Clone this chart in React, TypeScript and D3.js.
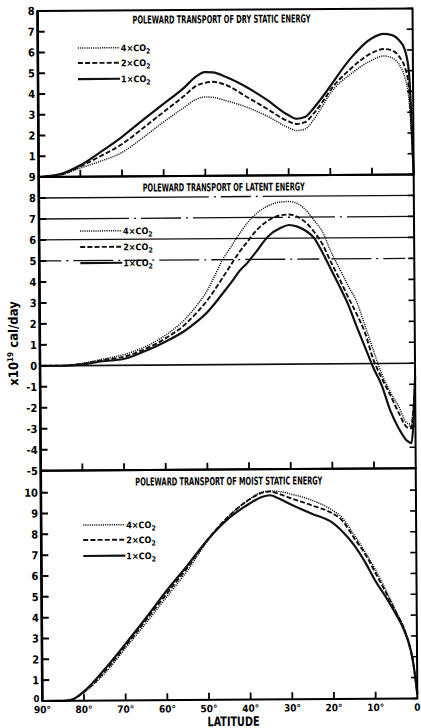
import React from 'react';
import * as d3 from 'd3';

// ---------- DATA ----------
const latTicks = [90, 80, 70, 60, 50, 40, 30, 20, 10, 0];
const latLabels = ['90°', '80°', '70°', '60°', '50°', '40°', '30°', '20°', '10°', '0'];
const seriesNames = ['4×CO', '2×CO', '1×CO'];

// Dry static energy
const dryLat = [90, 85, 80, 75, 70, 65, 60, 55, 52, 50, 48, 45, 40, 35, 30, 28, 26, 24, 22, 20, 15, 10, 7, 5, 3, 2, 1, 0.5, 0];
const dry1x = [0, 0.12, 0.55, 1.2, 1.9, 2.7, 3.47, 4.25, 4.8, 5.0, 4.98, 4.77, 4.27, 3.63, 2.9, 2.72, 2.8, 3.2, 3.7, 4.25, 5.6, 6.55, 6.78, 6.72, 6.4, 6.05, 5.0, 3.0, 0];
const dry2x = [0, 0.1, 0.5, 1.0, 1.55, 2.3, 3.08, 3.85, 4.35, 4.48, 4.53, 4.38, 3.8, 3.2, 2.6, 2.47, 2.55, 2.95, 3.45, 4.05, 5.1, 5.85, 6.05, 5.98, 5.6, 5.2, 4.2, 2.5, 0];
const dry4x = [0, 0.08, 0.42, 0.75, 1.15, 1.85, 2.6, 3.3, 3.7, 3.8, 3.78, 3.62, 3.3, 2.85, 2.3, 2.15, 2.22, 2.65, 3.25, 3.9, 4.85, 5.5, 5.72, 5.62, 5.2, 4.7, 3.6, 2.0, 0];
const dryTicks = [1, 2, 3, 4, 5, 6, 7, 8];

// Latent energy
const latLat = [90, 85, 80, 75, 70, 65, 60, 55, 52, 50, 48, 46, 44, 42, 40, 38, 35, 32, 30, 28, 26, 24, 22, 20, 18, 16, 14, 12, 10, 8, 6, 4, 2, 1, 0.5, 0];
const lat4x = [0, 0, 0.1, 0.3, 0.5, 0.85, 1.4, 2.2, 2.9, 3.45, 4.2, 5.0, 5.6, 6.2, 6.75, 7.15, 7.55, 7.73, 7.75, 7.65, 7.35, 6.85, 6.3, 5.35, 4.55, 3.75, 3.0, 1.85, 0.65, -0.5, -1.35, -2.05, -2.85, -2.9, -2.2, -1.0];
const lat2x = [0, 0, 0.08, 0.25, 0.4, 0.75, 1.25, 1.95, 2.55, 3.0, 3.55, 4.15, 4.75, 5.35, 5.85, 6.35, 6.85, 7.1, 7.13, 7.02, 6.75, 6.3, 5.7, 4.85, 4.05, 3.2, 2.4, 1.5, 0.2, -0.7, -1.5, -2.35, -3.05, -3.1, -2.3, -0.8];
const lat1x = [0, 0, 0.05, 0.2, 0.3, 0.65, 1.1, 1.65, 2.1, 2.45, 2.9, 3.4, 3.9, 4.45, 4.85, 5.35, 6.1, 6.5, 6.63, 6.55, 6.35, 6.0, 5.3, 4.5, 3.7, 2.85, 1.8, 0.8, -0.2, -1.05, -2.25, -3.1, -3.7, -3.8, -2.9, -0.6];
const latTicksY = [9, 8, 7, 6, 5, 4, 3, 2, 1, 0, -1, -2, -3, -4, -5];
const latRefLines = [8, 7, 6, 5, 0];

// Moist static energy
const moLat = [90, 85, 83, 80, 75, 70, 65, 60, 55, 50, 45, 40, 37, 35, 33, 30, 25, 20, 18, 15, 12, 10, 7, 5, 3, 1.5, 1, 0];
const mo1x = [0, 0, 0.05, 0.45, 1.5, 2.7, 3.95, 5.25, 6.45, 7.7, 8.7, 9.4, 9.72, 9.8, 9.65, 9.35, 8.9, 8.45, 8.1, 7.4, 6.45, 5.7, 4.75, 4.05, 3.25, 2.3, 1.8, 0.2];
const mo2x = [0, 0, 0.05, 0.42, 1.4, 2.6, 3.85, 5.1, 6.35, 7.7, 8.8, 9.6, 9.92, 9.98, 9.87, 9.65, 9.3, 8.9, 8.62, 7.75, 6.85, 6.1, 4.95, 4.15, 3.3, 2.3, 1.8, 0.2];
const mo4x = [0, 0, 0.05, 0.4, 1.3, 2.5, 3.7, 4.95, 6.2, 7.65, 8.8, 9.6, 9.95, 10.0, 9.98, 9.85, 9.55, 9.05, 8.75, 7.9, 6.95, 6.25, 5.05, 4.2, 3.35, 2.35, 1.8, 0.2];
const moTicks = [0, 1, 2, 3, 4, 5, 6, 7, 8, 9, 10];

const titles = [
  'POLEWARD TRANSPORT OF DRY STATIC ENERGY',
  'POLEWARD TRANSPORT OF LATENT ENERGY',
  'POLEWARD TRANSPORT OF MOIST STATIC ENERGY',
];

// ---------- STYLES ----------
const FONT = "'Liberation Sans Narrow', 'DejaVu Sans Condensed', 'Arial Narrow', sans-serif";
const lineStyles = [
  { dash: '1.1,1.1', width: 1.5 },
  { dash: '5,2.2', width: 1.9 },
  { dash: undefined, width: 2.2 },
];

export default function App() {
  const x = d3.scaleLinear().domain([90, 0]).range([40, 415]);
  const panels = [
    {
      y: d3.scaleLinear().domain([0, 8]).range([175.7, 9.7]),
      dom: [0, 8], lat: dryLat, series: [dry4x, dry2x, dry1x], ticks: dryTicks,
      title: titles[0], titleX: 224, titleY: 23, titleW: 178,
      legendY: [47, 62, 78], legendX: 80,
    },
    {
      y: d3.scaleLinear().domain([-5, 9]).range([469.5, 175.7]),
      dom: [-5, 9], lat: latLat, series: [lat4x, lat2x, lat1x], ticks: latTicksY,
      title: titles[1], titleX: 225, titleY: 191, titleW: 162,
      legendY: [230, 246, 262], legendX: 81,
    },
    {
      y: d3.scaleLinear().domain([0, 11.05]).range([699.7, 469.5]),
      dom: [0, 11.05], lat: moLat, series: [mo4x, mo2x, mo1x], ticks: moTicks,
      title: titles[2], titleX: 228, titleY: 485, titleW: 187,
      legendY: [524, 539, 555], legendX: 82,
    },
  ];
  const [x0, x1] = x.range();
  const refDash: Record<number, string | undefined> = {
    8: '170,5,2,5,30,5,2,5',
    7: '90,5,2,5,40,5,2,5',
    6: undefined,
    5: '22,5,2,5,40,5,2,5',
    0: undefined,
  };

  return (
    <svg width={421} height={728} style={{ position: 'absolute', left: 0, top: 0, background: '#fff' }}
      fontFamily={FONT} fontWeight="bold">
      <rect x={0} y={0} width={421} height={728} fill="#fff" />
      <g transform="rotate(-0.4 228 364)">
        {panels.map((p, pi) => {
          const yTop = p.y(p.dom[1]);
          const yBot = p.y(p.dom[0]);
          return (
            <g key={pi}>
              {pi === 1 && latRefLines.map((v) => (
                <line key={v} x1={x0} x2={x1} y1={p.y(v)} y2={p.y(v)} stroke="#111"
                  strokeWidth={v === 0 ? 1.6 : 1.3} strokeDasharray={refDash[v]} />
              ))}
              {p.series.map((s, si) => {
                const gen = d3.line<number>()
                  .x((_, i) => x(p.lat[i]))
                  .y((d) => p.y(d))
                  .curve(d3.curveMonotoneX);
                return (
                  <path key={si} d={gen(s) || ''} fill="none" stroke="#111"
                    strokeWidth={lineStyles[si].width} strokeDasharray={lineStyles[si].dash}
                    strokeLinejoin="round" />
                );
              })}
              <rect x={x0} y={yTop} width={x1 - x0} height={yBot - yTop} fill="none" stroke="#000" strokeWidth={2} />
              <line x1={x0} x2={x0} y1={yTop} y2={yBot} stroke="#000" strokeWidth={2.6} />
              {p.ticks.map((t) => (
                <g key={t}>
                  <line x1={x0} x2={x0 + 7} y1={p.y(t)} y2={p.y(t)} stroke="#000" strokeWidth={2} />
                  <line x1={x1 - 6} x2={x1} y1={p.y(t)} y2={p.y(t)} stroke="#000" strokeWidth={1.6} />
                  <text x={x0 - 3} y={p.y(t) + (pi === 2 && t === 0 ? 1 : 4)} textAnchor="end"
                    fontSize={pi === 2 && t === 0 ? 9.5 : 11}>{t}</text>
                </g>
              ))}
              {latTicks.slice(1, -1).map((t) => (
                <line key={t} x1={x(t)} x2={x(t)} y1={yBot} y2={yBot - 7} stroke="#000" strokeWidth={1.8} />
              ))}
              <text x={p.titleX} y={p.titleY} textAnchor="middle" fontSize={11}
                textLength={p.titleW} lengthAdjust="spacingAndGlyphs">{p.title}</text>
              {seriesNames.map((n, si) => (
                <g key={n}>
                  <line x1={p.legendX} x2={p.legendX + 42} y1={p.legendY[si]} y2={p.legendY[si]}
                    stroke="#111" strokeWidth={lineStyles[si].width} strokeDasharray={lineStyles[si].dash} />
                  <text x={p.legendX + 43} y={p.legendY[si] + 3.5} fontSize={9}>
                    {n}<tspan dy={2.5} fontSize={7}>2</tspan>
                  </text>
                </g>
              ))}
            </g>
          );
        })}
        {latTicks.map((t, i) => (
          <text key={t} x={x(t)} y={712} textAnchor="middle" fontSize={10}>{latLabels[i]}</text>
        ))}
        <text x={231} y={726} textAnchor="middle" fontSize={13} textLength={52} lengthAdjust="spacingAndGlyphs">LATITUDE</text>
        <text transform="translate(18,342) rotate(-90)" textAnchor="middle" fontSize={13}>
          x10<tspan dy={-5} fontSize={8}>19</tspan><tspan dy={5}> cal/day</tspan>
        </text>
      </g>
    </svg>
  );
}
